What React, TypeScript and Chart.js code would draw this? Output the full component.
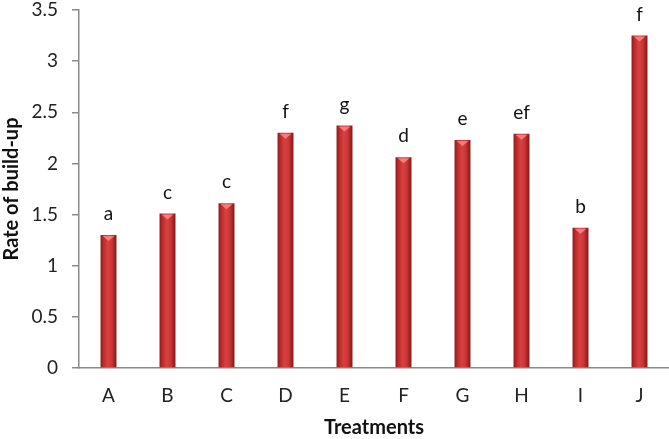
import React, { useEffect, useRef } from "react";
import { Chart, registerables } from "chart.js";

Chart.register(...registerables);

const categories = ["A", "B", "C", "D", "E", "F", "G", "H", "I", "J"];
const rates = [1.3, 1.51, 1.61, 2.3, 2.37, 2.06, 2.23, 2.29, 1.37, 3.25];
const groupLetters = ["a", "c", "c", "f", "g", "d", "e", "ef", "b", "f"];
const yTicks = [0, 0.5, 1, 1.5, 2, 2.5, 3, 3.5];

const FONT = "Lato, 'Open Sans', sans-serif";

const barStyle = {
  id: "barStyle",
  beforeDatasetsDraw(chart: any) {
    const ctx = chart.ctx;
    const meta = chart.getDatasetMeta(0);
    meta.data.forEach((bar: any) => {
      const w = bar.width;
      const g = ctx.createLinearGradient(bar.x - w / 2, 0, bar.x + w / 2, 0);
      g.addColorStop(0, "#8e1c1c");
      g.addColorStop(0.2, "#bd2c2c");
      g.addColorStop(0.45, "#d94141");
      g.addColorStop(0.7, "#cc3636");
      g.addColorStop(1, "#821717");
      bar.options = Object.assign({}, bar.options, { backgroundColor: g });
    });
  },
  afterDatasetsDraw(chart: any) {
    const ctx = chart.ctx;
    const meta = chart.getDatasetMeta(0);
    ctx.save();
    meta.data.forEach((bar: any, i: number) => {
      const w = bar.width;
      ctx.fillStyle = "rgba(255,140,140,0.8)";
      ctx.beginPath();
      ctx.moveTo(bar.x - w / 2 + 2, bar.y + 1);
      ctx.lineTo(bar.x + w / 2 - 2, bar.y + 1);
      ctx.lineTo(bar.x, bar.y + 6);
      ctx.closePath();
      ctx.fill();
      ctx.fillStyle = "#111";
      ctx.font = `19px ${FONT}`;
      ctx.textAlign = "center";
      ctx.textBaseline = "middle";
      ctx.fillText(groupLetters[i], bar.x, bar.y - 21);
    });
    ctx.restore();
  },
};

export default function App() {
  const ref = useRef<HTMLCanvasElement>(null);
  useEffect(() => {
    document.body.style.margin = "0";
    const chart = new Chart(ref.current!, {
      type: "bar",
      data: {
        labels: categories,
        datasets: [
          {
            data: rates,
            backgroundColor: () => "#c0392b",
            borderWidth: 0,
            barPercentage: 0.3,
            categoryPercentage: 0.9,
          },
        ],
      },
      plugins: [barStyle],
      options: {
        responsive: false,
        animation: false,
        devicePixelRatio: 1,
        layout: { padding: { top: 10, right: 0, left: 0, bottom: 0 } },
        plugins: { legend: { display: false }, tooltip: { enabled: false } },
        scales: {
          x: {
            grid: { display: false, drawTicks: true, tickLength: 9 },
            border: { display: true, color: "#8a8a8a", width: 1.5 },
            ticks: { color: "#222", font: { family: FONT, size: 19 }, padding: 7 },
            title: {
              display: true,
              text: "Treatments",
              color: "#111",
              font: { family: FONT, size: 20, weight: "bold" },
              padding: { top: 4, bottom: -1 },
            },
            afterFit: (s: any) => {
              s.height = 71;
              s.paddingLeft = 0;
              s.paddingRight = 0;
            },
          },
          y: {
            min: 0,
            max: 3.5,
            afterBuildTicks: (s: any) => {
              s.ticks = yTicks.map((v) => ({ value: v }));
            },
            grid: { drawOnChartArea: false, drawTicks: true, tickLength: 7, color: "#8a8a8a", lineWidth: 1.5 },
            border: { display: true, color: "#8a8a8a", width: 1.5 },
            ticks: {
              color: "#222",
              font: { family: FONT, size: 19 },
              padding: 14,
              callback: (v: any) => String(v),
            },
            title: {
              display: true,
              text: "Rate of build-up",
              color: "#111",
              font: { family: FONT, size: 20, weight: "bold" },
              padding: { top: 0, bottom: 4 },
            },
            afterFit: (s: any) => {
              s.width = 79;
              s.paddingTop = 0;
              s.paddingBottom = 0;
            },
          },
        },
      },
    });
    return () => chart.destroy();
  }, []);
  return <canvas ref={ref} width={669} height={439} style={{ display: "block" }} />;
}
